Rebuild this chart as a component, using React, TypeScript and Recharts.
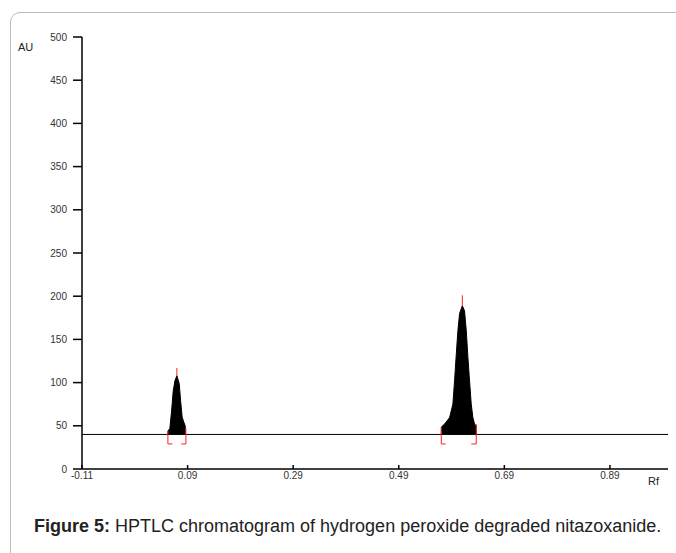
import React from 'react'
import { ComposedChart, Area, Line, XAxis, YAxis, ReferenceLine } from 'recharts'

type Pt = { rf: number; au: number }

const xTicks = [-0.11, 0.09, 0.29, 0.49, 0.69, 0.89]
const yTicks = [0, 50, 100, 150, 200, 250, 300, 350, 400, 450, 500]
const BASELINE = 40

// peak 1 (Rf ~0.07)
const peak1: Pt[] = [
    { rf: 0.0527, au: 40 },
    { rf: 0.0529, au: 44 },
    { rf: 0.0564, au: 47 },
    { rf: 0.0597, au: 67 },
    { rf: 0.0627, au: 90 },
    { rf: 0.066, au: 102 },
    { rf: 0.0697, au: 108 },
    { rf: 0.0741, au: 99 },
    { rf: 0.0768, au: 79 },
    { rf: 0.0797, au: 60 },
    { rf: 0.083, au: 54 },
    { rf: 0.0855, au: 50 },
    { rf: 0.0857, au: 40 },
]

// peak 2 (Rf ~0.61)
const peak2: Pt[] = [
    { rf: 0.5706, au: 40 },
    { rf: 0.5708, au: 48.7 },
    { rf: 0.5768, au: 52 },
    { rf: 0.5863, au: 59.5 },
    { rf: 0.5925, au: 75 },
    { rf: 0.5957, au: 102 },
    { rf: 0.599, au: 133 },
    { rf: 0.602, au: 160 },
    { rf: 0.6052, au: 180 },
    { rf: 0.6104, au: 189 },
    { rf: 0.6146, au: 183 },
    { rf: 0.6179, au: 160 },
    { rf: 0.621, au: 129 },
    { rf: 0.6241, au: 102 },
    { rf: 0.6273, au: 75 },
    { rf: 0.6304, au: 59.5 },
    { rf: 0.6336, au: 52 },
    { rf: 0.6366, au: 50 },
    { rf: 0.6368, au: 40 },
]

// red integration marks
const marks: Pt[][] = [
    [{ rf: 0.0613, au: 29 }, { rf: 0.0527, au: 29 }, { rf: 0.0527, au: 44 }],
    [{ rf: 0.0782, au: 29 }, { rf: 0.0868, au: 29 }, { rf: 0.0868, au: 47 }],
    [{ rf: 0.0697, au: 108 }, { rf: 0.0697, au: 117 }],
    [{ rf: 0.5788, au: 29 }, { rf: 0.5706, au: 29 }, { rf: 0.5706, au: 48 }],
    [{ rf: 0.6273, au: 29 }, { rf: 0.6368, au: 29 }, { rf: 0.6368, au: 52 }],
    [{ rf: 0.6104, au: 189 }, { rf: 0.6104, au: 201 }],
]

const font = 'Liberation Sans, Arial, sans-serif'

export default function App() {
    return (
        <div style={{ position: 'absolute', left: 0, top: 0, width: 676, height: 553, overflow: 'hidden', background: '#fff', fontFamily: font }}>
            <div style={{ position: 'absolute', left: 10, top: 12, width: 800, height: 700, border: '1px solid #bdbdbd', borderTopLeftRadius: 10 }} />
            <div style={{ position: 'absolute', left: 18, top: 41, fontSize: 11, color: '#222' }}>AU</div>
            <div style={{ position: 'absolute', left: 648, top: 475, fontSize: 11, color: '#222' }}>Rf</div>
            <div style={{ position: 'absolute', left: 0, top: 0 }}>
                <ComposedChart width={676} height={500} margin={{ top: 37, right: 8, left: 0, bottom: 11 }}>
                    <XAxis
                        type="number"
                        dataKey="rf"
                        domain={[-0.11, 1.0]}
                        ticks={xTicks}
                        allowDataOverflow
                        height={20}
                        tickSize={-4}
                        tickMargin={7}
                        stroke="#000"
                        strokeWidth={1.5}
                        tick={{ fill: '#333', fontSize: 10, fontFamily: font }}
                        tickFormatter={(v: number) => v.toFixed(2)}
                    />
                    <YAxis
                        type="number"
                        dataKey="au"
                        domain={[0, 500]}
                        ticks={yTicks}
                        width={82}
                        tickSize={9}
                        tickMargin={6}
                        stroke="#000"
                        strokeWidth={1.5}
                        tick={{ fill: '#333', fontSize: 10, fontFamily: font }}
                    />
                    <ReferenceLine y={BASELINE} stroke="#000" strokeWidth={1} />
                    <Area data={peak1} dataKey="au" type="linear" baseValue={BASELINE} fill="#000" fillOpacity={1} stroke="#000" isAnimationActive={false} />
                    <Area data={peak2} dataKey="au" type="linear" baseValue={BASELINE} fill="#000" fillOpacity={1} stroke="#000" isAnimationActive={false} />
                    {marks.map((m, i) => (
                        <Line key={i} data={m} dataKey="au" type="linear" stroke="#ff2020" strokeWidth={1} dot={false} isAnimationActive={false} />
                    ))}
                </ComposedChart>
            </div>
            <div style={{ position: 'absolute', left: 34, top: 516, fontSize: 18, lineHeight: '20px', color: '#222', whiteSpace: 'nowrap' }}>
                <b>Figure 5:</b> HPTLC chromatogram of hydrogen peroxide degraded nitazoxanide.
            </div>
        </div>
    )
}
